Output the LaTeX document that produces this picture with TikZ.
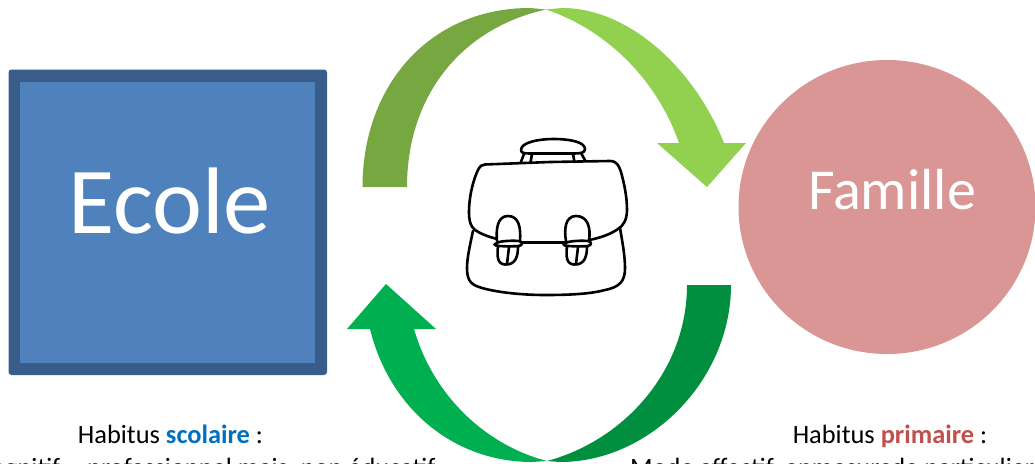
\documentclass[tikz,border=0pt]{standalone}
\usepackage{fontspec}
\usetikzlibrary{shapes.geometric}
\setmainfont{Carlito}
\newcommand{\fsz}[1]{\fontsize{#1}{#1}\selectfont}
\definecolor{ecolefill}{HTML}{4F81BD}
\definecolor{ecoleline}{HTML}{385D8A}
\definecolor{famfill}{HTML}{D99694}
\definecolor{gA}{HTML}{76A740}
\definecolor{gB}{HTML}{92D050}
\definecolor{gC}{HTML}{00B050}
\definecolor{gD}{HTML}{008F3F}
\definecolor{scol}{HTML}{0070C0}
\definecolor{prim}{HTML}{C0504D}
\tikzset{
  bagline/.style={line width=2.6pt,line cap=round,line join=round,draw=black},
  captext/.style={text=black,inner sep=0pt,anchor=base},
}
\begin{document}
\begin{tikzpicture}[x=1pt,y=-1pt]
\useasboundingbox (0,0) rectangle (1035,463);
\clip (0,0) rectangle (1035,463);
\fill[white] (0,0) rectangle (1035,463);
% Ecole
\node[rounded corners=3pt,fill=ecoleline,inner sep=0pt,minimum width=318.5pt,minimum height=305.5pt] (ecoleframe) at (167.75,222.25) {};
\node[fill=ecolefill,inner sep=0pt,minimum width=295pt,minimum height=281pt] (ecolebox) at (167.5,222.5) {};
\node[text=white,inner sep=0pt,anchor=base] (ecole) at (169.5,233) {\fsz{94.5}Ecole};
% Famille
\node[ellipse,fill=famfill,inner sep=0pt,minimum width=297pt,minimum height=294pt] (famillebox) at (887,207) {};
\node[text=white,inner sep=0pt,anchor=base] (famille) at (892,209) {\fsz{58}Famille};
% arrows
\fill[gA] (362.5,187) .. controls (362.5,85) and (430,8) .. (530,8) -- (546,9.5)
  .. controls (462,28) and (407,95) .. (407,187) -- cycle;
\fill[gB] (546,9.5) -- (562,8) .. controls (630,8) and (695,70) .. (724,143)
  -- (746,143) -- (707,187) -- (657,143) -- (679,143)
  .. controls (657,80) and (607,30) .. (546,9.5) -- cycle;
\fill[gD] (731,285) .. controls (731,380) and (650,462) .. (560,462) -- (547,461)
  .. controls (625,440) and (687,370) .. (687,285) -- cycle;
\fill[gC] (547,461) -- (532,462) .. controls (455,462) and (390,410) .. (370,329)
  -- (347,329) -- (386,284) -- (436,329) -- (414,329)
  .. controls (433,395) and (485,445) .. (547,461) -- cycle;
% satchel
\begin{scope}[bagline]
  \draw (521,150) .. controls (521,142) and (540,139) .. (553,139) .. controls (570,139) and (585,142) .. (585,149) .. controls (585,153) and (580,153.5) .. (574,153.5) -- (530,153.5) .. controls (524,153.5) and (521,153) .. (521,150) -- cycle;
  \draw (524,154) -- (520.5,163);
  \draw (532,154) -- (530.5,162.5);
  \draw (573,154) -- (574.5,162);
  \draw (581,153) -- (585.5,161);
  % flap
  \draw (485,164.5) -- (550,162) -- (610,161)
    .. controls (617,161) and (619,166) .. (621,172)
    .. controls (624,183) and (627,196) .. (627,210)
    .. controls (627,220) and (623,226) .. (618,229)
    .. controls (605,238) and (585,242) .. (565,242.5)
    -- (523,242.5)
    .. controls (505,242) and (485,237) .. (475,230)
    .. controls (470,226) and (469,220) .. (469,212)
    .. controls (469,195) and (474,178) .. (478,170)
    .. controls (480,166) and (482,164.5) .. (485,164.5) -- cycle;
  % lower body
  \draw (473,231) .. controls (470,245) and (467,258) .. (467,268)
    .. controls (467,282) and (472,285) .. (482,288)
    .. controls (500,293) and (525,295) .. (545,295)
    .. controls (570,295) and (590,294) .. (605,290)
    .. controls (620,287) and (625,281) .. (625,268)
    .. controls (625,255) and (622,240) .. (620,228);
  % left clasp
  \draw[fill=white] (497,241) .. controls (496,230) and (497,216) .. (508,216) .. controls (519,216) and (521,228) .. (520,241);
  \draw[fill=white] (496,243.5) .. controls (499,240.5) and (515,240.5) .. (519,241) .. controls (523,242) and (523,245) .. (519,246) .. controls (515,246.5) and (499,246.5) .. (496,245.5) .. controls (494,245) and (494,244) .. (496,243.5) -- cycle;
  \draw (498,246) .. controls (497,256) and (497,264) .. (505,264.5) .. controls (516,265) and (518,256) .. (518,246);
  \draw (509,247) -- (507,264);
  % right clasp
  \draw[fill=white] (566,241) .. controls (564,230) and (565,216) .. (576,216) .. controls (588,216) and (591,228) .. (589,241);
  \draw[fill=white] (565,243.5) .. controls (568,240.5) and (584,240.5) .. (588,241) .. controls (592,242) and (592,245) .. (588,246) .. controls (584,246.5) and (568,246.5) .. (565,245.5) .. controls (563,245) and (563,244) .. (565,243.5) -- cycle;
  \draw (567,246) .. controls (566,256) and (566,264) .. (574,264.5) .. controls (585,265) and (587,256) .. (587,246);
  \draw (578,247) -- (576,264);
\end{scope}
% captions
\node[captext] (habscol) at (170.5,443) {\fsz{26.4}Habitus \textbf{\textcolor{scol}{scolaire}} :};
\node[captext] (habprim) at (890,443) {\fsz{26.4}Habitus \textbf{\textcolor{prim}{primaire}} :};
\node[captext,anchor=base west] (linescol) at (-23,476.5) {\fsz{26.4}Cognitif,\hspace{16pt} professionnel mais\hspace{7pt} non éducatif};
\node[captext,anchor=base west] (lineprim) at (630,476.5) {\fsz{26.4}Mode affectif, en\hspace{-6pt} mesure\hspace{-7pt} de particulier};
\end{tikzpicture}
\end{document}
